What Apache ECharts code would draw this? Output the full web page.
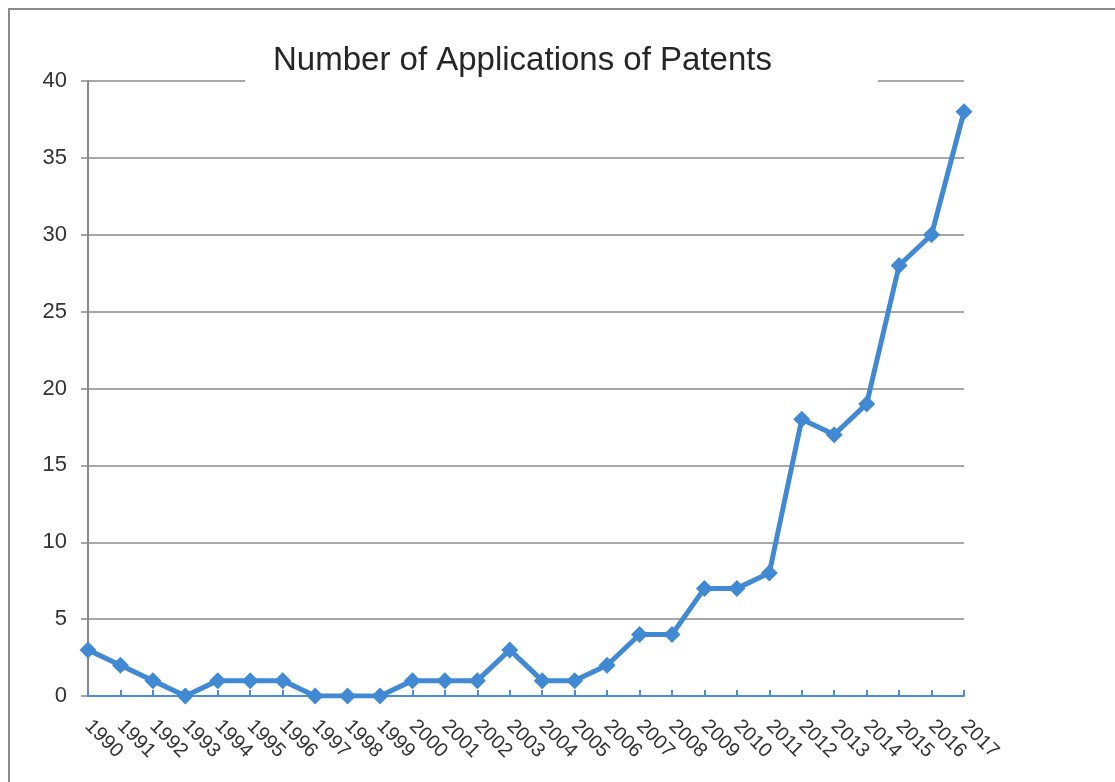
<!DOCTYPE html>
<html>
<head>
  <meta charset="utf-8">
  <title>Number of Applications of Patents</title>
  <script src="https://cdn.jsdelivr.net/npm/echarts@6/dist/echarts.min.js"></script>
  <style>
    html, body { margin: 0; padding: 0; background: #fff; }
    #main { width: 1115px; height: 782px; }
    #frame {
      position: absolute; left: 8px; top: 8px; width: 1120px; height: 800px;
      border: 2px solid #8a8a8a; pointer-events: none;
    }
  </style>
</head>
<body>
  <div id="main"></div>
  <div id="frame"></div>
  <script>
    var years = ['1990','1991','1992','1993','1994','1995','1996','1997','1998','1999',
      '2000','2001','2002','2003','2004','2005','2006','2007','2008','2009',
      '2010','2011','2012','2013','2014','2015','2016','2017'];
    var applications = [3, 2, 1, 0, 1, 1, 1, 0, 0, 0,
      1, 1, 1, 3, 1, 1, 2, 4, 4, 7,
      7, 8, 18, 17, 19, 28, 30, 38];

    var chart = echarts.init(document.getElementById('main'));
    chart.setOption({
      animation: false,
      textStyle: { fontFamily: 'Liberation Sans, Arial, sans-serif' },
      // white box behind the title hides part of the top gridline
      title: {
        text: 'Number of Applications of Patents',
        left: 245,
        top: 41,
        padding: [3, 106, 12, 28],
        backgroundColor: '#fff',
        textStyle: { fontSize: 33, fontWeight: 'normal', color: '#262626', fontFamily: 'Liberation Sans, Arial, sans-serif' }
      },
      grid: { left: 88, right: 151, top: 81, bottom: 86 },
      xAxis: {
        type: 'category',
        data: years,
        boundaryGap: false,
        axisLine: { lineStyle: { color: '#4a8fd3', width: 2 } },
        axisTick: { inside: true, length: 6, lineStyle: { color: '#4a8fd3', width: 2 } },
        axisLabel: { rotate: -45, margin: 27, fontSize: 20, color: '#333', interval: 0 }
      },
      yAxis: {
        type: 'value',
        min: 0, max: 40, interval: 5,
        axisLine: { show: true, lineStyle: { color: '#8a8a8a', width: 2 } },
        axisTick: { show: true, length: 7, lineStyle: { color: '#8a8a8a', width: 1.5 } },
        axisLabel: { fontSize: 22, color: '#333', margin: 21 },
        splitLine: { lineStyle: { color: '#8a8a8a', width: 1.5 } }
      },
      series: [{
        type: 'line',
        data: applications,
        symbol: 'diamond',
        symbolSize: 17,
        lineStyle: { color: '#4189d2', width: 5 },
        itemStyle: { color: '#4189d2' }
      }]
    });
  </script>
</body>
</html>
